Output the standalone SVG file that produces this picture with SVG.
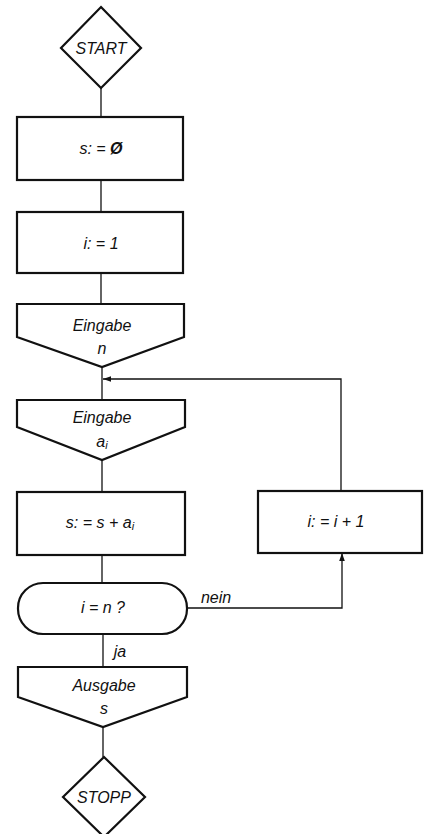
<svg xmlns="http://www.w3.org/2000/svg" width="424" height="834" viewBox="0 0 424 834">
<style>
.shape{fill:#fff;stroke:#111;stroke-width:2.2}
.conn{fill:none;stroke:#111;stroke-width:1.3}
text{font-family:"Liberation Sans",Arial,sans-serif;font-style:italic;font-size:16px;fill:#111;text-anchor:middle;dominant-baseline:central}
.sub{font-size:11px}
</style>
<defs>
<marker id="arr" viewBox="0 0 10 10" refX="10" refY="5" markerWidth="10" markerHeight="8" markerUnits="userSpaceOnUse" orient="auto">
<path d="M0,1.5 L10,5 L0,8.5 Z" fill="#111"/>
</marker>
</defs>
<rect width="424" height="834" fill="#fff"/>
<g id="connectors">
<line class="conn" x1="101" y1="88" x2="101" y2="117"/>
<line class="conn" x1="101" y1="180" x2="101" y2="212"/>
<line class="conn" x1="101" y1="273" x2="101" y2="304"/>
<line class="conn" x1="102" y1="367" x2="102" y2="400"/>
<line class="conn" x1="102" y1="460" x2="102" y2="492"/>
<line class="conn" x1="102" y1="555" x2="102" y2="583"/>
<line class="conn" x1="103" y1="634" x2="103" y2="667"/>
<line class="conn" x1="103" y1="727" x2="103" y2="757"/>
<polyline class="conn" points="187,608 342,608 342,553" marker-end="url(#arr)"/>
<polyline class="conn" points="341,491 341,379 103,379" marker-end="url(#arr)"/>
<text x="216" y="597" font-size="14">nein</text>
<text x="120" y="651" font-size="15">ja</text>
</g>
<g id="start">
<polygon class="shape" points="101,7 141,48 101,88 61,48"/>
<text x="101" y="48" font-size="14">START</text>
</g>
<g id="s0">
<rect class="shape" x="17" y="117" width="166" height="63"/>
<text x="101" y="148">s: = <tspan font-weight="bold">Ø</tspan></text>
</g>
<g id="i1">
<rect class="shape" x="17" y="212" width="166" height="61"/>
<text x="101" y="243">i: = 1</text>
</g>
<g id="eingabe_n">
<polygon class="shape" points="17,304 184,304 184,337 102,367 17,337"/>
<text x="102" y="325">Eingabe</text>
<text x="102" y="348">n</text>
</g>
<g id="eingabe_a">
<polygon class="shape" points="17,400 185,400 185,427 102,460 17,427"/>
<text x="102" y="417">Eingabe</text>
<text x="102" y="441">a<tspan class="sub" dy="4">i</tspan></text>
</g>
<g id="sum">
<rect class="shape" x="17" y="492" width="168" height="63"/>
<text x="100" y="522">s: = s + a<tspan class="sub" dy="4">i</tspan></text>
</g>
<g id="inc">
<rect class="shape" x="258" y="491" width="164" height="62"/>
<text x="336" y="521">i: = i + 1</text>
</g>
<g id="test">
<rect class="shape" x="18" y="583" width="169" height="51" rx="25" ry="25"/>
<text x="103" y="607">i = n ?</text>
</g>
<g id="ausgabe">
<polygon class="shape" points="18,667 187,667 187,697 103,727 18,697"/>
<text x="104" y="685">Ausgabe</text>
<text x="104" y="708">s</text>
</g>
<g id="stopp">
<polygon class="shape" points="104,757 145,797 104,837 63,797"/>
<text x="104" y="797" font-size="14">STOPP</text>
</g>
</svg>
